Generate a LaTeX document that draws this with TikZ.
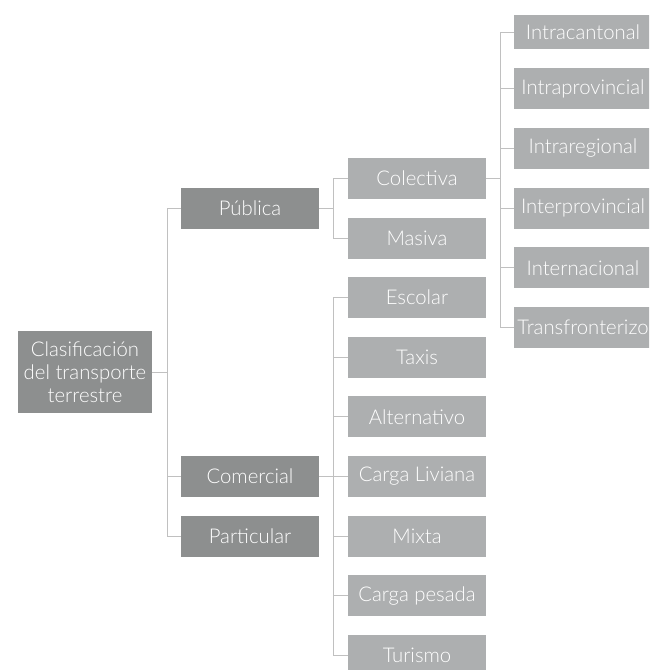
\documentclass[tikz,border=0pt]{standalone}
\usepackage{fontspec}
\setmainfont{Lato}[UprightFont={* Light}]
\definecolor{darkbox}{RGB}{141,143,143}
\definecolor{lightbox}{RGB}{173,175,176}
\definecolor{wire}{RGB}{192,192,192}
\begin{document}
\begin{tikzpicture}[x=1pt, y=-1pt,
            box/.style={rectangle, inner sep=0pt, text=white, align=center,
                    font=\fontsize{20.3}{23}\selectfont},
            mainbox/.style={box, fill=darkbox, minimum width=138pt, minimum height=41pt},
            subbox/.style={box, fill=lightbox, minimum width=138pt, minimum height=41pt},
            link/.style={draw=wire, line width=1pt}
        ]
        \clip (0,0) rectangle (649,670);

        % Root and first level
        \node[mainbox, minimum width=134pt, minimum height=82pt] (root) at (85,372)
            {Clasificación\\del transporte\\terrestre};
        \node[mainbox] (pub) at (250,208.5) {Pública};
        \node[mainbox] (com) at (250,476.5) {Comercial};
        \node[mainbox] (par) at (250,536.5) {Particular};

        % Second level
        \node[subbox] (col) at (417,178) {Colectiva};
        \node[subbox] (mas) at (417,238) {Masiva};
        \foreach \txt [count=\n from 1] in {Escolar, Taxis, Alternativo, Carga Liviana,
                Mixta, Carga pesada, Turismo} {
                \node[subbox] (C\n) at (417,{297.5+59.67*(\n-1)}) {\txt};
            }

        % Third level
        \node[subbox, minimum height=34pt] (T1) at (583,32) {Intracantonal};
        \foreach \txt [count=\n from 2] in {Intraprovincial, Intraregional,
                Interprovincial, Internacional, Transfronterizo} {
                \node[subbox] (T\n) at (583,{88.5+59.75*(\n-2)}) {\txt};
            }

        % Connectors
        \foreach \k in {pub, com, par} {
                \draw[link] (root.east) -- ++(15,0) |- (\k.west);
            }
        \foreach \k in {col, mas} {
                \draw[link] (pub.east) -- ++(14,0) |- (\k.west);
            }
        \foreach \n in {1,...,7} {
                \draw[link] (com.east) -- ++(14,0) |- (C\n.west);
            }
        \foreach \n in {1,...,6} {
                \draw[link] (col.east) -- ++(14,0) |- (T\n.west);
            }
    \end{tikzpicture}
\end{document}
